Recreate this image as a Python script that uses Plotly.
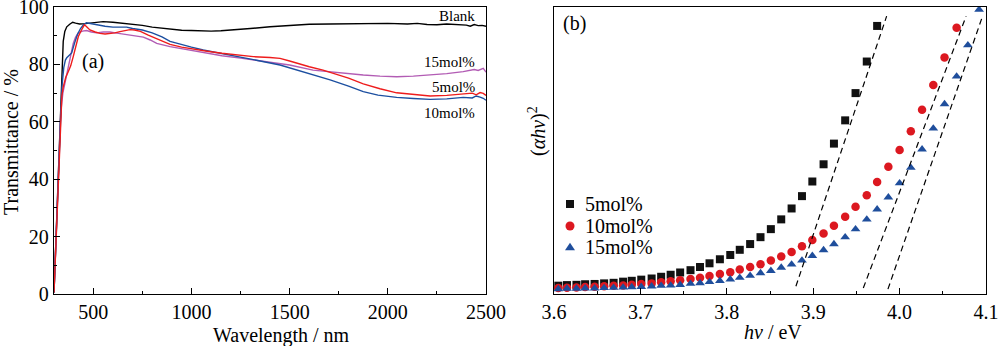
import plotly.graph_objects as go

# ---------------- Panel (a): transmittance spectra ----------------
wl_blank = [300, 310, 320, 330, 340, 347, 355, 365, 380, 395, 410, 430, 460, 500, 550, 600, 650, 700, 750, 800,
            855, 900, 950, 1000, 1050, 1100, 1150, 1200, 1300, 1400, 1500, 1600, 1706, 1800, 1900, 2000, 2100,
            2150, 2200, 2250, 2300, 2350, 2400, 2420, 2440, 2460, 2480, 2500]
t_blank = [0.5, 19, 38, 56, 75, 88, 91.5, 93.1, 94.0, 94.7, 94.4, 94.1, 94.2, 94.6, 94.9, 94.7, 94.4, 94.1, 93.6, 93.0,
           92.6, 92.1, 91.9, 91.8, 91.6, 91.6, 91.7, 91.9, 92.5, 93.1, 93.6, 94.0, 94.1, 94.2, 94.2, 94.3, 94.1,
           94.3, 93.9, 93.8, 94.1, 93.9, 93.7, 93.3, 93.9, 93.5, 93.6, 93.3]

wl_5 = [300, 310, 322, 334, 340, 347, 360, 373, 385, 398, 410, 424, 440, 455, 465, 483, 510, 534, 560, 585,
        610, 636, 660, 687, 710, 740, 780, 823, 891, 950, 1000, 1080, 1155, 1240, 1315, 1400, 1451, 1500, 1536, 1600,
        1670, 1706, 1800, 1875, 1960, 2045, 2130, 2215, 2300, 2384, 2430, 2450, 2470, 2486, 2500]
t_5 = [0.5, 19, 42, 64, 69, 72.2, 75.5, 77.5, 79.5, 82.7, 86.5, 89.7, 92.0, 93.8, 93.2, 92.0, 91.3, 90.8, 90.6, 90.7,
       91.0, 91.4, 91.8, 92.1, 92.0, 91.5, 90.2, 89.0, 87.0, 86.0, 85.4, 84.6, 83.9, 83.2, 82.7, 82.4, 82.1, 81.2, 80.4, 79.2,
       78.0, 77.2, 75.2, 73.2, 71.5, 70.1, 69.5, 69.0, 69.2, 69.7, 70.0, 69.4, 70.2, 69.9, 69.2]

wl_10 = [300, 310, 322, 334, 340, 350, 358, 365, 375, 390, 405, 420, 435, 450, 465, 480, 500, 530, 560, 600,
         640, 670, 700, 750, 800, 850, 891, 950, 1000, 1060, 1150, 1250, 1350, 1451, 1544, 1600, 1706, 1800, 1875, 1950,
         2045, 2130, 2215, 2300, 2384, 2430, 2450, 2470, 2486, 2500]
t_10 = [0.5, 19, 42, 65, 72, 79, 81.5, 82.3, 83.0, 84.0, 87.5, 90.5, 92.5, 93.8, 94.5, 94.3, 94.0, 93.6, 93.3, 93.0,
        92.9, 93.0, 92.5, 92.0, 91.0, 89.6, 88.0, 86.8, 86.0, 85.0, 83.9, 82.6, 81.2, 79.8, 78.0, 76.9, 74.6, 72.4, 70.5, 69.3,
        68.5, 68.1, 67.8, 68.0, 68.5, 68.3, 69.0, 68.6, 68.2, 67.5]

wl_15 = [300, 310, 322, 334, 345, 355, 364, 380, 398, 410, 424, 445, 466, 490, 517, 551, 585, 620, 653, 690,
         721, 755, 790, 823, 891, 950, 1000, 1080, 1155, 1250, 1400, 1500, 1619, 1706, 1800, 1875, 1960, 2045, 2130, 2215,
         2300, 2384, 2440, 2460, 2486, 2500]
t_15 = [0.5, 18, 41, 63, 70, 73.5, 75.7, 82.0, 87.3, 89.5, 91.0, 91.6, 91.8, 91.3, 91.0, 91.3, 91.3, 90.9, 90.5, 90.3,
        89.7, 89.5, 88.5, 87.3, 86.2, 85.5, 85.0, 84.0, 83.0, 82.2, 80.9, 79.8, 78.0, 77.4, 76.7, 76.3, 75.9, 75.7, 75.9, 76.3,
        76.8, 77.5, 78.2, 77.9, 78.6, 77.3]

curve_labels = ["Blank", "15mol%", "5mol%", "10mol%"]

# ---------------- Panel (b): Tauc plot ----------------
hv_5 = [3.974, 3.962, 3.949, 3.937, 3.924, 3.912, 3.899, 3.887, 3.875, 3.863, 3.851, 3.839, 3.827, 3.815, 3.804,
        3.792, 3.780, 3.769, 3.758, 3.746, 3.735, 3.724, 3.713, 3.701, 3.690, 3.680, 3.669, 3.658, 3.647, 3.636,
        3.626, 3.615, 3.605]
ahv_5 = [93.4, 81.0, 70.0, 60.5, 52.4, 45.2, 39.2, 34.1, 29.8, 26.0, 22.6, 19.8, 17.4, 15.4, 13.6,
         12.1, 10.7, 9.4, 8.3, 7.5, 6.7, 6.0, 5.4, 5.0, 4.6, 4.3, 3.9, 3.7, 3.5, 3.4, 3.2, 3.1, 2.9]

hv_10 = [4.066, 4.052, 4.039, 4.026, 4.013, 4.000, 3.987, 3.974, 3.962, 3.949, 3.937, 3.924, 3.912, 3.899, 3.887,
         3.875, 3.863, 3.851, 3.839, 3.827, 3.815, 3.804, 3.792, 3.780, 3.769, 3.758, 3.746, 3.735, 3.724, 3.713,
         3.701, 3.690, 3.680, 3.669, 3.658, 3.647, 3.636, 3.626, 3.615, 3.605]
ahv_10 = [92.8, 82.4, 72.8, 64.2, 56.7, 50.2, 44.3, 39.0, 34.4, 30.4, 26.9, 23.8, 21.1, 18.8, 16.6,
          14.6, 13.1, 11.7, 10.4, 9.4, 8.5, 7.6, 7.0, 6.3, 5.7, 5.2, 4.8, 4.4, 4.1, 3.7,
          3.5, 3.2, 3.0, 2.9, 2.7, 2.5, 2.4, 2.3, 2.2, 2.1]

hv_15 = [4.092, 4.079, 4.066, 4.052, 4.039, 4.026, 4.013, 4.000, 3.987, 3.974, 3.962, 3.949, 3.937, 3.924, 3.912,
         3.899, 3.887, 3.875, 3.863, 3.851, 3.839, 3.827, 3.815, 3.804, 3.792, 3.780, 3.769, 3.758, 3.746, 3.735,
         3.724, 3.713, 3.701, 3.690, 3.680, 3.669, 3.658, 3.647, 3.636, 3.626, 3.615, 3.605]
ahv_15 = [99.1, 86.7, 75.8, 66.2, 57.7, 50.4, 44.0, 38.6, 33.7, 29.5, 26.0, 22.6, 19.8, 17.4, 15.3,
          13.3, 11.7, 10.3, 9.2, 8.1, 7.3, 6.4, 5.7, 5.1, 4.6, 4.2, 3.8, 3.6, 3.2, 3.0,
          2.9, 2.7, 2.5, 2.4, 2.3, 2.2, 2.1, 2.0, 2.0, 1.9, 1.9, 1.7]

fit5_x, fit5_y = [3.880, 3.985], [2.7, 96.8]
fit10_x, fit10_y = [3.958, 4.077], [2.1, 96.8]
fit15_x, fit15_y = [3.9865, 4.096], [1.7, 96.8]

legend_labels = ["5mol%", "10mol%", "15mol%"]

FONT = "Liberation Serif"
W, H = 1000, 346
def px(x): return x / W
def py(y): return (H - y) / H

fig = go.Figure()

lw = 1.4
fig.add_trace(go.Scatter(x=wl_blank, y=t_blank, mode="lines", line=dict(color="#000000", width=lw), name="Blank", xaxis="x", yaxis="y"))
fig.add_trace(go.Scatter(x=wl_15, y=t_15, mode="lines", line=dict(color="#b25cb4", width=lw), name="15mol%", xaxis="x", yaxis="y"))
fig.add_trace(go.Scatter(x=wl_10, y=t_10, mode="lines", line=dict(color="#1c4fa0", width=lw), name="10mol%", xaxis="x", yaxis="y"))
fig.add_trace(go.Scatter(x=wl_5, y=t_5, mode="lines", line=dict(color="#ee1c1c", width=lw), name="5mol%", xaxis="x", yaxis="y"))

c5, c10, c15 = "#111111", "#dc1820", "#1f4e9c"
fig.add_trace(go.Scatter(x=hv_5, y=ahv_5, mode="markers", marker=dict(symbol="square", size=8, color=c5), name="5mol%", xaxis="x2", yaxis="y2"))
fig.add_trace(go.Scatter(x=hv_10, y=ahv_10, mode="markers", marker=dict(symbol="circle", size=8.5, color=c10), name="10mol%", xaxis="x2", yaxis="y2"))
fig.add_trace(go.Scatter(x=hv_15, y=ahv_15, mode="markers", marker=dict(symbol="triangle-up", size=8.5, color=c15), name="15mol%", xaxis="x2", yaxis="y2"))
for fx, fy in [(fit5_x, fit5_y), (fit10_x, fit10_y), (fit15_x, fit15_y)]:
    fig.add_trace(go.Scatter(x=fx, y=fy, mode="lines", line=dict(color="#000000", width=1.2, dash="6px,4px"), xaxis="x2", yaxis="y2"))

tickfont = dict(family=FONT, size=20, color="#000")
common = dict(showgrid=False, zeroline=False, showline=True, mirror=True, linecolor="#000", linewidth=1.3,
              ticks="inside", tickcolor="#000", tickwidth=1, ticklen=6, tickfont=tickfont,
              automargin=False, ticklabeloverflow="allow")

y0, y1 = py(294), py(7)
fig.update_layout(
    width=W, height=H, margin=dict(l=0, r=0, t=0, b=0, autoexpand=False),
    paper_bgcolor="white", plot_bgcolor="white", showlegend=False,
    font=dict(family=FONT, size=20, color="#000"),
    xaxis=dict(domain=[px(54), px(486)], range=[300, 2500], tickvals=[500, 1000, 1500, 2000, 2500],
               minor=dict(ticks="inside", ticklen=3, tickcolor="#000", dtick=250, tick0=0), anchor="y", **common),
    yaxis=dict(domain=[y0, y1], range=[0, 100], tickvals=[0, 20, 40, 60, 80, 100],
               minor=dict(ticks="inside", ticklen=3, tickcolor="#000", dtick=10), anchor="x", **common),
    xaxis2=dict(domain=[px(554), px(986)], range=[3.6, 4.1], tickvals=[3.6, 3.7, 3.8, 3.9, 4.0, 4.1], tickformat=".1f",
                minor=dict(ticks="inside", ticklen=3, tickcolor="#000", dtick=0.05, tick0=3.6), anchor="y2", **common),
    yaxis2=dict(domain=[y0, y1], range=[0, 100], showgrid=False, zeroline=False, showline=True, mirror=True,
                linecolor="#000", linewidth=1.3, ticks="", showticklabels=False, anchor="x2", automargin=False),
)

ann = []
def A(text, x, y, size=20, xanchor="center", angle=0):
    ann.append(dict(text=text, x=px(x), y=py(y), xref="paper", yref="paper", showarrow=False,
                    xanchor=xanchor, yanchor="middle", textangle=angle, font=dict(family=FONT, size=size, color="#000")))

A("Wavelength / nm", 281, 335)
A("Transmittance / %", 11, 142, angle=-90)
A("(a)", 93, 61)
A("(b)", 574, 23)
A("<i>hν</i> / eV", 773, 332)
A("(<i>αhν</i>)<sup>2</sup>", 537, 131, angle=-90)
for lab, yy in zip(curve_labels, [16, 62, 87, 113]):
    A(lab, 477, yy, size=15, xanchor="right")
for lab, yy in zip(legend_labels, [204, 226, 247]):
    A(lab, 583, yy, xanchor="left")
fig.update_layout(annotations=ann)

# legend glyphs
shapes = []
gx = px(570)
shapes.append(dict(type="rect", xref="paper", yref="paper", xsizemode="pixel", ysizemode="pixel",
                   xanchor=gx, yanchor=py(204), x0=-4, x1=4, y0=-4, y1=4, fillcolor=c5, line=dict(width=0)))
shapes.append(dict(type="circle", xref="paper", yref="paper", xsizemode="pixel", ysizemode="pixel",
                   xanchor=gx, yanchor=py(226), x0=-4.5, x1=4.5, y0=-4.5, y1=4.5, fillcolor=c10, line=dict(width=0)))
shapes.append(dict(type="path", xref="paper", yref="paper", xsizemode="pixel", ysizemode="pixel",
                   xanchor=gx, yanchor=py(247), path="M-5,-3.2 L5,-3.2 L0,4.2 Z", fillcolor=c15, line=dict(width=0)))
fig.update_layout(shapes=shapes)

fig.write_html("out.html")
